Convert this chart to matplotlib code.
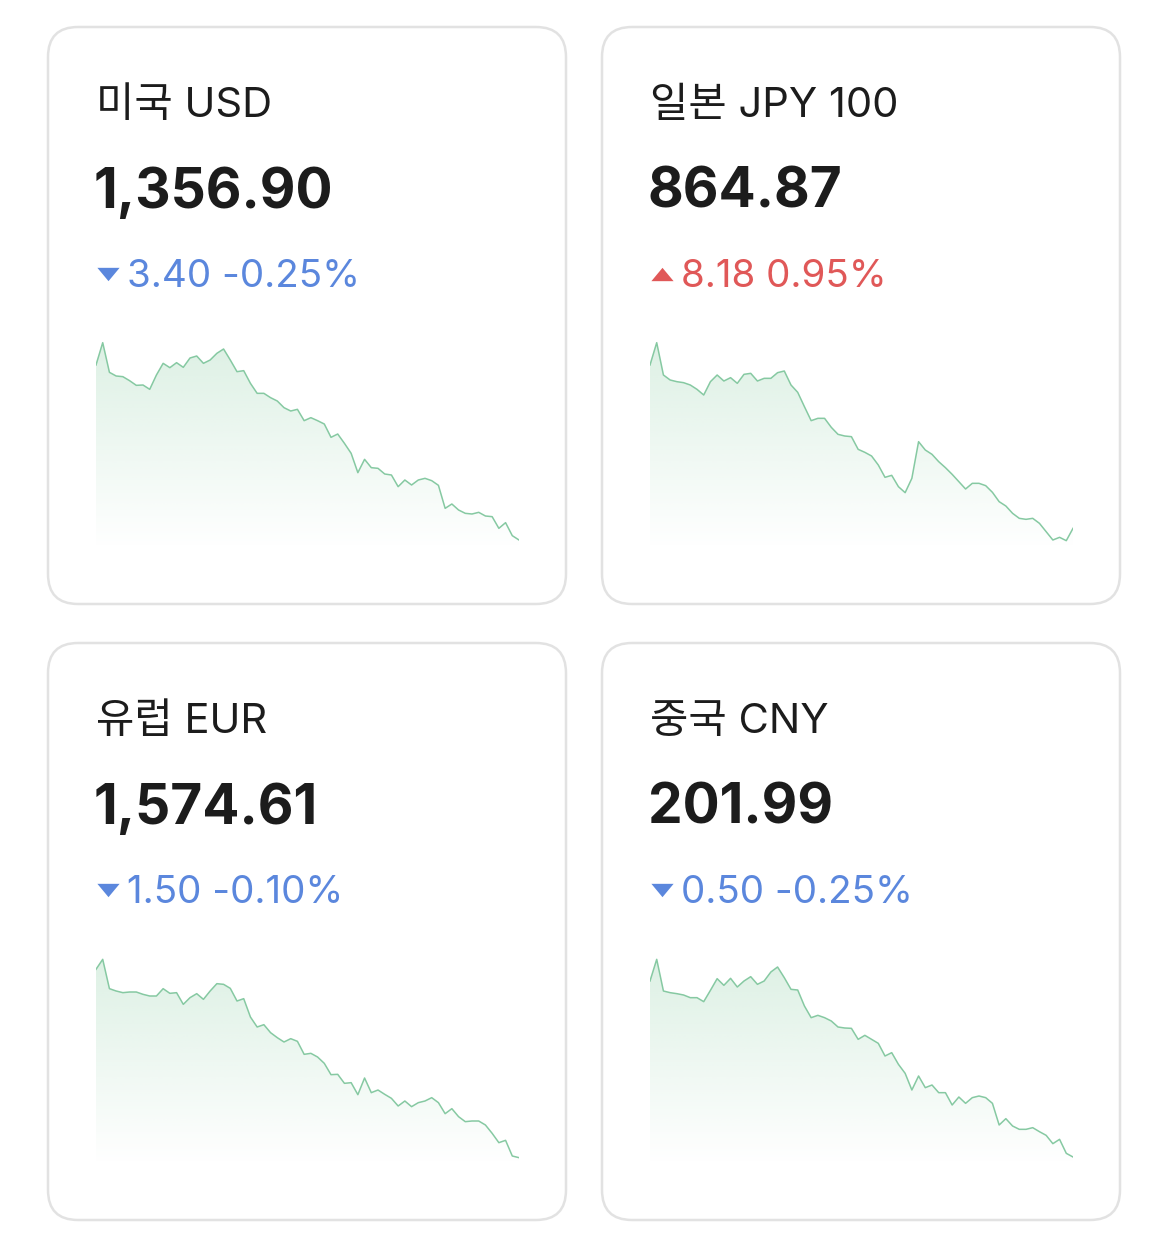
import numpy as np
import matplotlib
matplotlib.use("Agg")
import matplotlib.pyplot as plt
from matplotlib.patches import FancyBboxPatch

# ---- data (sparkline heights, arbitrary units) ----
names = ["미국 USD", "일본 JPY 100", "유럽 EUR", "중국 CNY"]
prices = ["1,356.90", "864.87", "1,574.61", "201.99"]
changes = ["3.40 -0.25%", "8.18 0.95%", "1.50 -0.10%", "0.50 -0.25%"]
direction = ["down", "up", "down", "down"]

usd = [545, 612, 523, 512, 510, 498, 484, 485, 472, 515, 550, 537, 552, 538, 566, 572,
       550, 560, 580, 593, 560, 525, 528, 490, 460, 460, 447, 437, 417, 407, 412, 378,
       387, 378, 368, 328, 338, 310, 280, 222, 262, 237, 235, 218, 215, 180, 200, 185,
       200, 205, 198, 184, 115, 128, 110, 100, 98, 103, 92, 90, 55, 72, 33, 20]
jpy = [545, 612, 515, 500, 495, 492, 485, 472, 455, 495, 515, 497, 507, 490, 517, 520,
       497, 505, 505, 522, 527, 485, 463, 420, 378, 385, 385, 358, 337, 332, 330, 292,
       283, 272, 245, 208, 214, 180, 162, 205, 315, 290, 277, 255, 237, 217, 195, 173,
       190, 190, 183, 163, 135, 122, 100, 85, 82, 85, 70, 45, 20, 28, 18, 55]
eur = [580, 610, 522, 515, 510, 512, 512, 505, 500, 500, 522, 508, 510, 475, 495, 507,
       490, 515, 537, 535, 523, 485, 492, 437, 407, 414, 390, 375, 362, 372, 364, 325,
       328, 317, 298, 264, 265, 238, 240, 204, 254, 210, 218, 205, 193, 170, 185, 168,
       180, 185, 195, 180, 147, 162, 138, 123, 125, 125, 113, 88, 60, 67, 20, 15]
cny = [545, 610, 515, 510, 507, 503, 495, 495, 483, 517, 552, 532, 553, 527, 545, 558,
       535, 545, 572, 587, 555, 520, 518, 470, 435, 442, 435, 425, 407, 404, 403, 370,
       382, 370, 358, 320, 330, 295, 268, 218, 260, 225, 233, 210, 210, 173, 197, 178,
       195, 200, 195, 178, 113, 132, 110, 100, 100, 105, 93, 82, 57, 70, 28, 17]
series = [usd, jpy, eur, cny]

W, H = 1169, 1239
fig = plt.figure(figsize=(W / 100, H / 100), dpi=100)
bg = fig.add_axes([0, 0, 1, 1])
bg.set_xlim(0, W)
bg.set_ylim(H, 0)
bg.axis("off")

fam = ["Inter", "Noto Sans CJK KR", "DejaVu Sans"]
blue = "#5b87dd"
red = "#e05858"
line_green = "#86c9a2"

card_x = [48, 602, 48, 602]
card_y = [27, 27, 643, 643]
cw, ch = 518, 577

for i in range(4):
    x0, y0 = card_x[i], card_y[i]
    bg.add_patch(FancyBboxPatch((x0, y0), cw, ch,
                                boxstyle="round,pad=0,rounding_size=30",
                                fc="white", ec="#e2e2e2", lw=1.8))
    bg.text(x0 + 48, y0 + 90, names[i], family=fam, fontsize=30, color="#1c1c1c",
            va="baseline", ha="left")
    bg.text(x0 + 46, y0 + 181, prices[i], family=fam, fontsize=39.6, weight="bold",
            color="#1c1c1c", va="baseline", ha="left")
    col = blue if direction[i] == "down" else red
    # markers are drawn in screen space, so "down" points to negative y
    tri = [(-1, 0.6), (1, 0.6), (0, -0.6)] if direction[i] == "down" else [(-1, -0.6), (1, -0.6), (0, 0.6)]
    bg.plot([x0 + 59.5], [y0 + 246.5], marker=tri, ms=16, color=col, mec="none")
    bg.text(x0 + 79, y0 + 260, changes[i], family=fam, fontsize=27.8, color=col,
            va="baseline", ha="left")

    # sparkline axes, pixel box: left x0+48 .. x0+471, top y0+308 .. y0+521
    left, right = x0 + 48, x0 + 471
    top, bottom = y0 + 308, y0 + 521
    ax = fig.add_axes([left / W, 1 - bottom / H, (right - left) / W, (bottom - top) / H])
    vals = np.array(series[i], dtype=float)
    xs = np.arange(len(vals))
    ax.set_xlim(0, len(vals) - 1)
    ax.set_ylim(-4, 635)
    ax.axis("off")
    poly = ax.fill_between(xs, vals, -4, color="none", lw=0)
    grad = np.zeros((256, 1, 4))
    rgb = matplotlib.colors.to_rgb("#a6d9b9")
    grad[:, :, 0], grad[:, :, 1], grad[:, :, 2] = rgb
    grad[:, 0, 3] = np.linspace(0.0, 0.38, 256)
    im = ax.imshow(grad, extent=[0, len(vals) - 1, -4, 612], origin="lower",
                   aspect="auto", interpolation="bilinear", zorder=1)
    im.set_clip_path(poly.get_paths()[0], transform=ax.transData)
    ax.plot(xs, vals, color=line_green, lw=1.1, zorder=2)

fig.savefig("out.png", dpi=100, facecolor="white")
